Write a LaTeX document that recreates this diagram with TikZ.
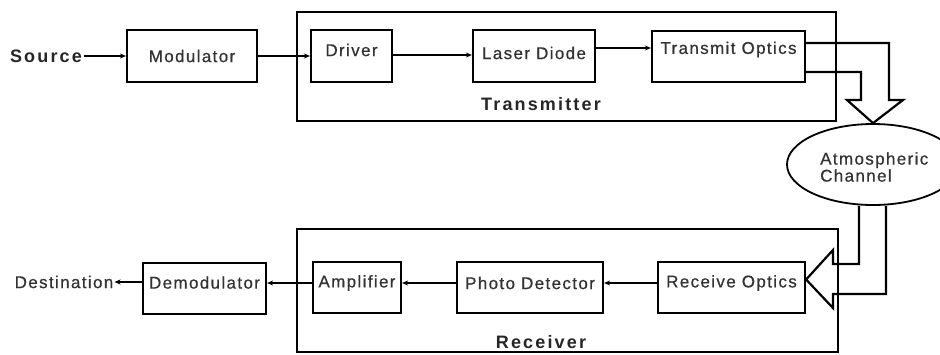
\documentclass[tikz,border=0pt]{standalone}
\usepackage{fontspec}
\usetikzlibrary{arrows.meta,shapes.geometric}
\newfontfamily\lblfont[LetterSpace=8,FakeBold=0.6]{Liberation Sans}
\newfontfamily\blblfont[LetterSpace=12]{Liberation Sans Bold}
\tikzset{
  txt/.style={font=\lblfont\fontsize{17}{19}\selectfont, text=black!80, inner sep=0pt},
  btxt/.style={font=\blblfont\fontsize{18}{20}\selectfont, text=black!85, inner sep=0pt},
  blk/.style={draw, line width=2.2pt, inner sep=0pt},
  outer/.style={draw, line width=2.2pt, inner sep=0pt},
  conn/.style={line width=1.8pt, -{Stealth[length=6pt,width=5pt]}},
  bigarrow/.style={line width=2.2pt, line join=miter}
}
\begin{document}
\begin{tikzpicture}[x=1pt,y=-1pt]
\useasboundingbox (0,0) rectangle (940,354);
\clip (0,0) rectangle (940,354);
\fill[white] (0,0) rectangle (940,354);

% outer boxes
\node[outer, minimum width=539, minimum height=109] (tx) at (566.5,66.5) {};
\node[outer, minimum width=541, minimum height=123] (rx) at (567.5,290.5) {};
\node[btxt] (txlbl) at (541,104) {Transmitter};
\node[btxt] (rxlbl) at (541,342) {Receiver};

% top row
\node[btxt] (src) at (46,56) {Source};
\node[blk, minimum width=130, minimum height=52, label={[txt]center:Modulator}] (mod) at (192,56) {};
\node[blk, minimum width=81, minimum height=52, label={[txt,yshift=6pt]center:Driver}] (drv) at (351.5,56) {};
\node[blk, minimum width=122, minimum height=52, label={[txt,yshift=3pt]center:Laser Diode}] (ld) at (534,56) {};
\node[blk, minimum width=153, minimum height=51, label={[txt,yshift=7pt]center:Transmit Optics}] (to) at (728.5,56.5) {};

% channel
\node[draw, ellipse, line width=1.8pt, minimum width=172, minimum height=81, inner sep=0pt] (atm) at (873,164.5) {};
\node[txt, align=left, anchor=west] (atmt) at (820,167) {Atmospheric\\[-2pt]Channel};

% bottom row
\node[blk, minimum width=147, minimum height=51, label={[txt,yshift=4.5pt]center:Receive Optics}] (ro) at (731.5,287.5) {};
\node[blk, minimum width=146, minimum height=51, label={[txt,yshift=4.5pt]center:Photo Detector}] (pd) at (530,287.5) {};
\node[blk, minimum width=88, minimum height=51, label={[txt,yshift=4.5pt]center:Amplifier}] (amp) at (357,287.5) {};
\node[blk, minimum width=123, minimum height=51, label={[txt,yshift=6pt]center:Demodulator}] (dem) at (204.5,288.5) {};
\node[txt] (dst) at (64,282) {Destination};

% connectors
\draw[conn] ([xshift=2pt]src.east) -- (mod.west);
\draw[conn] (mod.east) -- (drv.west);
\draw[conn] ([yshift=1pt]drv.east) -- ([yshift=1pt]ld.west);
\draw[conn] ([yshift=8pt]ld.east) -- ([yshift=8.5pt]to.west);
\draw[conn] ([yshift=4.5pt]ro.west) -- ([yshift=4.5pt]pd.east);
\draw[conn] ([yshift=4.5pt]pd.west) -- ([yshift=4.5pt]amp.east);
\draw[conn] ([yshift=4.5pt]amp.west) -- ([yshift=5.5pt]dem.east);
\draw[conn] ([yshift=6.5pt]dem.west) -- ([xshift=1pt]dst.east);

% big hollow arrow: transmit optics -> channel
\coordinate (t1) at ([yshift=13.5pt]to.east);
\coordinate (t2) at ([yshift=-15.5pt]to.east);
\draw[bigarrow] (t1) -- (889,43) -- (889,100) -- (903,100) -- (atm.north) -- (847,100) -- (861,100) -- (861,72) -- (t2);

% big hollow arrow: channel -> receive optics
\coordinate (r1) at ([xshift=-14pt]atm.south);
\coordinate (r2) at ([xshift=13pt]atm.south);
\coordinate (rtip) at ([yshift=8pt]ro.east);
\draw[bigarrow] (r1) -- (859,264) -- (833,264) -- (833,250) -- (rtip) -- (833,308) -- (833,294) -- (886,294) -- (r2);
\end{tikzpicture}
\end{document}
